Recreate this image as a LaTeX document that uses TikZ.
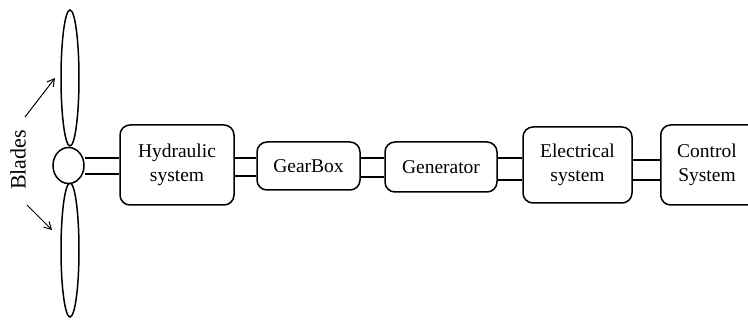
\documentclass[tikz,border=0pt]{standalone}
\usepackage{fontspec}
\setmainfont{Liberation Serif}
\usetikzlibrary{arrows.meta,shapes.geometric}
\begin{document}
\begin{tikzpicture}[x=1pt,y=-1pt,
  every node/.style={font=\fontsize{19.5}{24}\selectfont, inner sep=0pt},
  unit/.style={draw, line width=1.5pt, rounded corners=10pt, align=center},
  part/.style={draw, line width=1.5pt},
  shaftline/.style={line width=1.5pt},
  pointer/.style={line width=1pt, -{Straight Barb[length=7pt,width=8pt]}}]
  \useasboundingbox (0,0) rectangle (748,320);
  \clip (0,0) rectangle (748,320);

  % rotor: two blades and the hub
  \node[part, ellipse, minimum width=18pt, minimum height=136pt] (bladeA) at (70,78) {};
  \node[part, ellipse, minimum width=18pt, minimum height=134pt] (bladeB) at (70,250) {};
  \node[part, ellipse, fill=white, minimum width=31pt, minimum height=36pt] (hub) at (68.5,165.5) {};

  % subsystem boxes
  \node[unit, minimum width=114pt, minimum height=80pt] (hyd) at (177,165) {Hydraulic\\system};
  \node[unit, minimum width=103pt, minimum height=48pt] (gear) at (308.5,166) {GearBox};
  \node[unit, minimum width=112pt, minimum height=50pt] (gen) at (441,167) {Generator};
  \node[unit, minimum width=109pt, minimum height=76pt] (elec) at (577.5,165) {Electrical\\system};
  \node[unit, minimum width=110pt, minimum height=80pt, anchor=west] (ctrl) at (660,165) {};
  \node[align=center] (ctrltext) at (707,165) {Control\\System};

  % double-line shafts between the parts
  \draw[shaftline] (hub.east |- 0,158) -- (hyd.west |- 0,158);
  \draw[shaftline] (hub.east |- 0,174) -- (hyd.west |- 0,174);
  \foreach \a/\b/\ya/\yb in {hyd/gear/158/176, gear/gen/158/177, gen/elec/158/180, elec/ctrl/160/180}{
    \draw[shaftline] (\a.east |- 0,\ya) -- (\b.west |- 0,\ya);
    \draw[shaftline] (\a.east |- 0,\yb) -- (\b.west |- 0,\yb);
  }

  % blade label with its two pointers
  \node[rotate=90, font=\fontsize{22}{24}\selectfont] (lbl) at (18,160) {Blades};
  \coordinate (t1) at (25,117);
  \coordinate (e1) at (55,78);
  \coordinate (t2) at (27,205);
  \coordinate (e2) at (52,230);
  \draw[pointer] (t1) -- (e1);
  \draw[pointer] (t2) -- (e2);
\end{tikzpicture}
\end{document}
